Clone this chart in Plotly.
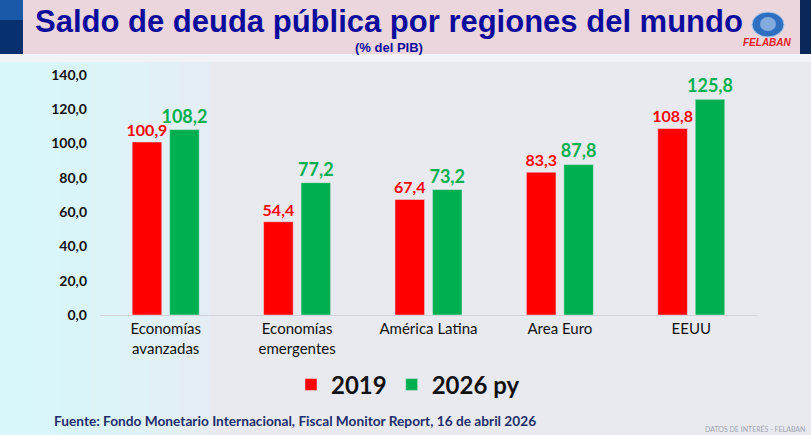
import plotly.graph_objects as go

# data
regiones = ["Economías<br>avanzadas", "Economías<br>emergentes", "América Latina",
            "Area Euro", "EEUU"]
deuda_2019 = [100.9, 54.4, 67.4, 83.3, 108.8]
deuda_2026 = [108.2, 77.2, 73.2, 87.8, 125.8]
ticks_y = [0, 20, 40, 60, 80, 100, 120, 140]

ROJO = "#FF0000"
VERDE = "#00B050"
FONT = "Lato, Roboto, sans-serif"

W, H = 811, 435
L, R, T, B = 100, 54, 75, 120


def px_x(px):
    return (px - L) / (W - L - R)


def px_y(py):
    return (H - B - py) / (H - T - B)


def rect(x0, x1, y0, y1, color, layer="below", **kw):
    # rectangle given in page pixels (top-left origin)
    return dict(type="rect", xref="paper", yref="paper", x0=px_x(x0), x1=px_x(x1),
                y0=px_y(y1), y1=px_y(y0), fillcolor=color, line_width=0, layer=layer, **kw)


def block(x0, x1, y0, y1, color):
    # solid block drawn as an empty annotation box
    return dict(text=" ", x=px_x(x0), y=px_y(y0), xanchor="left", yanchor="top",
                width=x1 - x0, height=y1 - y0, bgcolor=color, borderpad=0, borderwidth=0,
                font=dict(size=1))


fig = go.Figure()
fig.add_trace(go.Bar(
    x=regiones, y=deuda_2019, name="2019", marker_color=ROJO,
    texttemplate="%{y:.1f}", textposition="outside", cliponaxis=False,
    constraintext="none",
    textfont=dict(color=ROJO, size=16, family=FONT, weight="bold"),
))
fig.add_trace(go.Bar(
    x=regiones, y=deuda_2026, name="2026 py", marker_color=VERDE,
    texttemplate="%{y:.1f}", textposition="outside", cliponaxis=False,
    constraintext="none",
    textfont=dict(color=VERDE, size=18, family=FONT, weight="bold"),
))

shapes = []
# soft cyan glow on the left of the slide
for w in range(30, 211, 30):
    shapes.append(rect(0, w, 62, 435, "rgba(215,250,255,0.22)"))
shapes += [
    # header band
    rect(23, 800, 0, 54, "#ECD6DD"),
    rect(0, 811, 54, 62, "#F1F3F7"),
    rect(0, 23, 0, 54, "#06306E", layer="above"),
    rect(800, 811, 0, 54, "#0B2658", layer="above"),
    # logo globe
    dict(type="circle", xref="paper", yref="paper", x0=px_x(752), x1=px_x(784),
         y0=px_y(37), y1=px_y(12), fillcolor="#2E6FC0", line=dict(color="#A9C8EC", width=1)),
    dict(type="circle", xref="paper", yref="paper", x0=px_x(760), x1=px_x(776),
         y0=px_y(31), y1=px_y(17), fillcolor="#B9D3F0", line_width=0, opacity=0.6),
]

annotations = [
    # dark side strips of the header
    block(0, 23, 0, 54, "#06306E"),
    block(0, 23, 0, 20, "#1A58A8"),
    block(800, 811, 0, 54, "#0B2658"),
    dict(text="<b>Saldo de deuda pública por regiones del mundo</b>", x=px_x(389), y=px_y(22),
         font=dict(family="Liberation Sans, Arial", size=31, color="#0C0C9C")),
    dict(text="<b>(% del PIB)</b>", x=px_x(389), y=px_y(48),
         font=dict(family="Liberation Sans, Arial", size=13, color="#0C0C9C")),
    dict(text="<b><i>FELABAN</i></b>", x=px_x(767), y=px_y(42),
         font=dict(family="Liberation Sans, Arial", size=10, color="#E31B23")),
    dict(text="<b>Fuente: Fondo Monetario Internacional, Fiscal Monitor Report, 16 de abril 2026</b>",
         x=px_x(52), y=px_y(420), xanchor="left",
         font=dict(family=FONT, size=13.7, color="#1F2F6B")),
    dict(text="DATOS DE INTERÉS - FELABAN", x=px_x(807), y=px_y(429), xanchor="right",
         font=dict(family=FONT, size=7, color="#A0A4AE")),
]
for a in annotations:
    a.setdefault("xref", "paper")
    a.setdefault("yref", "paper")
    a.setdefault("showarrow", False)
    a.setdefault("xanchor", "center")
    a.setdefault("yanchor", "middle")

fig.update_layout(
    width=W, height=H,
    margin=dict(l=L, r=R, t=T, b=B),
    paper_bgcolor="#E8EAF0", plot_bgcolor="rgba(0,0,0,0)",
    separators=",.",
    barmode="group", bargap=0.43, bargroupgap=0.21,
    shapes=shapes, annotations=annotations,
    showlegend=True,
    legend=dict(orientation="h", x=px_x(408), xanchor="center", y=px_y(385), yanchor="middle",
                font=dict(family=FONT, size=24, color="#111111", weight="bold"),
                bgcolor="rgba(0,0,0,0)", itemwidth=30, traceorder="normal"),
    xaxis=dict(showline=True, linecolor="#D0D2D8", linewidth=1, ticks="",
               tickfont=dict(family=FONT, size=15, color="#111111")),
    yaxis=dict(range=[0, 140], tickvals=ticks_y, tickformat=".1f", showgrid=False,
               zeroline=False, showline=False, ticks="", ticklabelstandoff=12,
               tickfont=dict(family=FONT, size=14, color="#111111", weight="bold")),
)

# the page body has a default 8px margin; drop it so the figure fills the window
fig.write_html("out.html", config={"displayModeBar": False},
               post_script="document.body.style.margin='0';")
